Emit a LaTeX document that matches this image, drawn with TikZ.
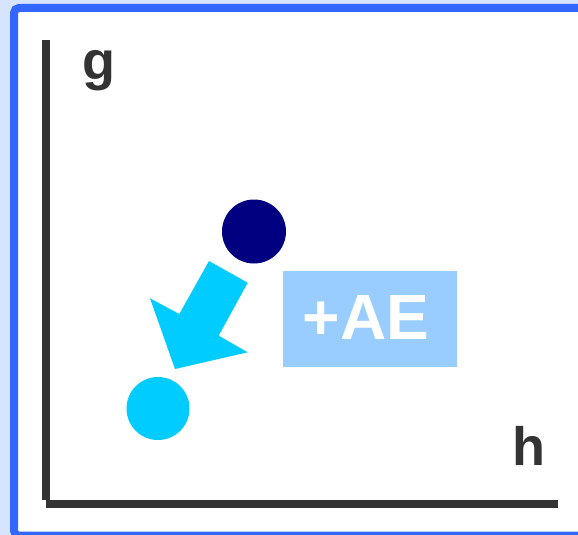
\documentclass[tikz,border=0pt]{standalone}
\usepackage{fontspec}
\setmainfont{Liberation Sans}
\definecolor{pagebg}{HTML}{D6E4FF}
\definecolor{framebl}{HTML}{3366FF}
\definecolor{axisgr}{HTML}{333333}
\definecolor{navy}{HTML}{000080}
\definecolor{cyanpt}{HTML}{00CCFF}
\definecolor{tagbl}{HTML}{99CCFF}
\begin{document}
\begin{tikzpicture}[x=1pt,y=-1pt,
  axis/.style={draw=axisgr,line width=8pt},
  axislabel/.style={text=axisgr,font=\fontsize{54}{60}\selectfont\bfseries,inner sep=0pt,anchor=base},
  dot/.style={circle,inner sep=0pt,minimum size=#1},
  tag/.style={fill=tagbl,text=white,font=\fontsize{64}{70}\selectfont\bfseries,minimum width=174.6pt,minimum height=95.7pt,inner sep=0pt}]
  % canvas and frame
  \useasboundingbox (0,0) rectangle (578,535);
  \fill[pagebg] (0,0) rectangle (578,535);
  \begin{scope}
    \clip (0,0) rectangle (578,535);
    \draw[framebl,fill=white,line width=8pt,rounded corners=5pt] (14,8) rectangle (600,535.7);
  \end{scope}
  % axes
  \coordinate (ytop) at (46,40);
  \coordinate (origin) at (46,504);
  \coordinate (xend) at (558,504);
  \draw[axis] (ytop) -- (46,500);
  \draw[axis] (origin) -- (xend);
  \node[axislabel] (glabel) at (99,80) {g};
  \node[axislabel] (hlabel) at (529,465) {h};
  % points
  \node[dot=64pt,fill=navy] (start) at (254,231.5) {};
  \node[dot=63pt,fill=cyanpt] (finish) at (158,408.5) {};
  % block arrow between the points
  \fill[cyanpt] (209,261) -- (247.7,282.7) -- (218.7,335.7) -- (247.7,352.3)
    -- (175,369) -- (150,298.3) -- (179.3,314) -- cycle;
  % shift tag
  \node[tag] (shift) at (370,319) {};
  \node[text=white,font=\fontsize{64}{70}\selectfont\bfseries,inner sep=0pt,anchor=base] (shifttext) at (366,339) {+AE};
\end{tikzpicture}
\end{document}
